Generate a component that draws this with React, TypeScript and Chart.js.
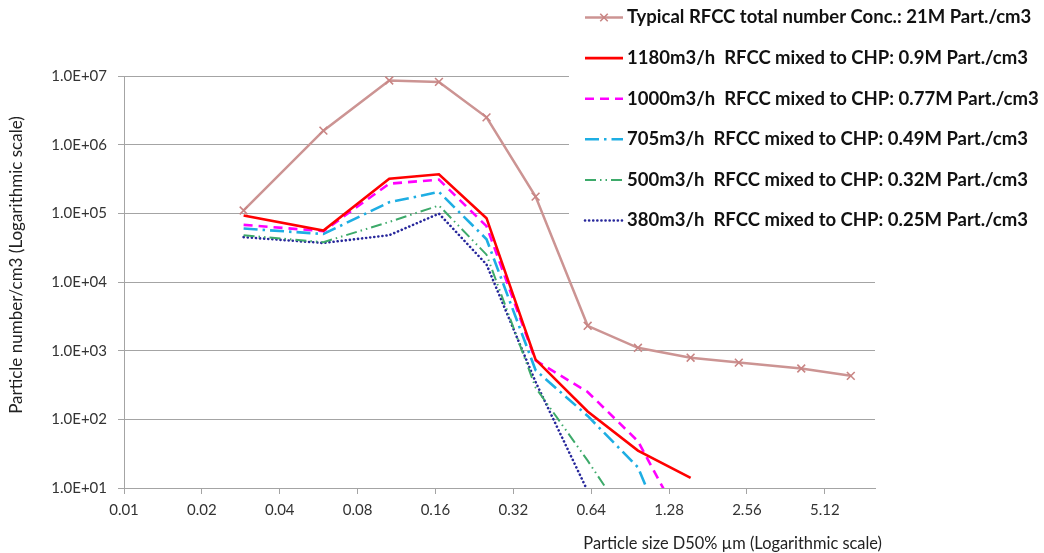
import React, { useEffect, useRef } from "react";
import { Chart, registerables } from "chart.js";

Chart.register(...registerables);

// ---- data ----
const sizes = [0.029, 0.059, 0.106, 0.165, 0.252, 0.39, 0.62, 0.97, 1.55, 2.38, 4.15, 6.45];
const typicalRFCC = [1.1e5, 1.6e6, 8.6e6, 8.2e6, 2.5e6, 1.75e5, 2300, 1100, 790, 670, 550, 430];
const flow1180 = [9.3e4, 5.6e4, 3.2e5, 3.7e5, 8.5e4, 740, 130, 35, 14];
const flow1000 = [6.8e4, 5.5e4, 2.7e5, 3.1e5, 6.5e4, 720, 250, 48, 1.8];
const flow705 = [6.0e4, 5.0e4, 1.45e5, 2.05e5, 4.2e4, 520, 112, 20, 0.3];
const flow500 = [4.8e4, 3.8e4, 7.5e4, 1.3e5, 2.5e4, 290, 25, 2];
const flow380 = [4.5e4, 3.7e4, 4.8e4, 9.9e4, 1.8e4, 350, 9];

const seriesLabels = [
  "Typical RFCC total number Conc.: 21M Part./cm3",
  "1180m3/h  RFCC mixed to CHP: 0.9M Part./cm3",
  "1000m3/h  RFCC mixed to CHP: 0.77M Part./cm3",
  "705m3/h  RFCC mixed to CHP: 0.49M Part./cm3",
  "500m3/h  RFCC mixed to CHP: 0.32M Part./cm3",
  "380m3/h  RFCC mixed to CHP: 0.25M Part./cm3",
];

const xTickValues = [0.01, 0.02, 0.04, 0.08, 0.16, 0.32, 0.64, 1.28, 2.56, 5.12];
const xTickLabels = ["0.01", "0.02", "0.04", "0.08", "0.16", "0.32", "0.64", "1.28", "2.56", "5.12"];
const yTickValues = [1e1, 1e2, 1e3, 1e4, 1e5, 1e6, 1e7];
const yTickLabels = ["1.0E+01", "1.0E+02", "1.0E+03", "1.0E+04", "1.0E+05", "1.0E+06", "1.0E+07"];

const xTitle = "Particle size D50% µm (Logarithmic scale)";
const yTitle = "Particle number/cm3 (Logarithmic scale)";

const toPoints = (vals: number[]) => vals.map((v, i) => ({ x: sizes[i], y: v }));

const GRID = "#A4A4A4";
const FONT = "Lato";

const legendPlugin = {
  id: "customLegend",
  afterDraw(chart: any) {
    const ctx = chart.ctx as CanvasRenderingContext2D;
    ctx.save();
    ctx.fillStyle = "#ffffff";
    ctx.fillRect(569, 0, 1044 - 569, 242);
    chart.data.datasets.forEach((ds: any, i: number) => {
      const y = 17.5 + i * 40.6;
      ctx.save();
      ctx.strokeStyle = ds.borderColor;
      ctx.lineWidth = ds.borderWidth;
      ctx.lineCap = ds.borderCapStyle || "butt";
      ctx.setLineDash(ds.borderDash || []);
      ctx.beginPath();
      ctx.moveTo(585, y);
      ctx.lineTo(623, y);
      ctx.stroke();
      ctx.setLineDash([]);
      if (ds.pointStyle === "crossRot") {
        const r = 5;
        ctx.strokeStyle = ds.pointBorderColor;
        ctx.lineWidth = 1.6;
        ctx.beginPath();
        ctx.moveTo(604 - r * 0.75, y - r * 0.75);
        ctx.lineTo(604 + r * 0.75, y + r * 0.75);
        ctx.moveTo(604 - r * 0.75, y + r * 0.75);
        ctx.lineTo(604 + r * 0.75, y - r * 0.75);
        ctx.stroke();
      }
      ctx.restore();
      ctx.fillStyle = "#111";
      ctx.font = `bold 18.5px ${FONT}`;
      ctx.textBaseline = "middle";
      ctx.textAlign = "left";
      ctx.fillText(ds.label, 627, y);
    });
    ctx.restore();
  },
};

const titlePlugin = {
  id: "axisTitles",
  afterDraw(chart: any) {
    const ctx = chart.ctx as CanvasRenderingContext2D;
    ctx.save();
    ctx.fillStyle = "#222";
    ctx.textBaseline = "middle";
    ctx.textAlign = "right";
    ctx.font = `16.4px ${FONT}`;
    ctx.fillText(xTitle, 882, 544);
    ctx.translate(17, 265);
    ctx.rotate(-Math.PI / 2);
    ctx.textAlign = "center";
    ctx.font = `17px ${FONT}`;
    ctx.fillText(yTitle, 0, 0);
    ctx.restore();
  },
};

export default function App() {
  const ref = useRef<HTMLCanvasElement>(null);
  useEffect(() => {
    if (!ref.current) return;
    const chart = new Chart(ref.current, {
      type: "line",
      data: {
        datasets: [
          {
            label: seriesLabels[0],
            data: toPoints(typicalRFCC),
            borderColor: "#CC9493",
            backgroundColor: "#CC9493",
            borderWidth: 2.5,
            pointStyle: "crossRot",
            pointRadius: 5.5,
            pointBorderWidth: 1.6,
            pointBorderColor: "#C98584",
          },
          {
            label: seriesLabels[1],
            data: toPoints(flow1180),
            borderColor: "#FF0000",
            borderWidth: 2.6,
            pointRadius: 0,
          },
          {
            label: seriesLabels[2],
            data: toPoints(flow1000),
            borderColor: "#FF00FF",
            borderWidth: 2.6,
            borderDash: [9, 6],
            pointRadius: 0,
          },
          {
            label: seriesLabels[3],
            data: toPoints(flow705),
            borderColor: "#1EAEE3",
            borderWidth: 2.6,
            borderDash: [14, 5, 2.5, 5],
            pointRadius: 0,
          },
          {
            label: seriesLabels[4],
            data: toPoints(flow500),
            borderColor: "#3DAA6A",
            borderWidth: 2,
            borderDash: [11, 4, 1.5, 4, 1.5, 4],
            pointRadius: 0,
          },
          {
            label: seriesLabels[5],
            data: toPoints(flow380),
            borderColor: "#27279B",
            borderWidth: 2.6,
            borderDash: [0.1, 4],
            borderCapStyle: "round",
            pointRadius: 0,
          },
        ],
      } as any,
      options: {
        responsive: false,
        animation: false,
        parsing: false as any,
        layout: { padding: { top: 76, right: 169, left: 0, bottom: 0 } },
        plugins: {
          legend: { display: false },
          tooltip: { enabled: false },
        },
        scales: {
          x: {
            type: "logarithmic",
            min: 0.01,
            max: 8,
            afterBuildTicks: (s: any) => {
              s.ticks = xTickValues.map((v) => ({ value: v }));
            },
            afterFit: (s: any) => {
              s.height = 65;
            },
            ticks: {
              autoSkip: false,
              maxRotation: 0,
              padding: 7,
              color: "#333",
              font: { family: FONT, size: 15 },
              callback: (_v: any, i: number) => xTickLabels[i],
            },
            grid: {
              drawOnChartArea: false,
              drawTicks: true,
              tickLength: 6,
              color: GRID,
            },
            border: { display: true, color: GRID, width: 1 },
          },
          y: {
            type: "logarithmic",
            min: 10,
            max: 1e7,
            afterBuildTicks: (s: any) => {
              s.ticks = yTickValues.map((v) => ({ value: v }));
            },
            afterFit: (s: any) => {
              s.width = 124;
            },
            ticks: {
              autoSkip: false,
              padding: 11,
              color: "#333",
              font: { family: FONT, size: 15 },
              callback: (_v: any, i: number) => yTickLabels[i],
            },
            grid: {
              drawOnChartArea: true,
              drawTicks: true,
              tickLength: 6,
              color: GRID,
            },
            border: { display: true, color: GRID, width: 1 },
          },
        },
      } as any,
      plugins: [legendPlugin, titlePlugin],
    });
    return () => chart.destroy();
  }, []);
  return (
    <div style={{ position: "absolute", left: 0, top: 0, width: 1044, height: 553, background: "#fff" }}>
      <canvas ref={ref} width={1044} height={553} style={{ display: "block" }} />
    </div>
  );
}
